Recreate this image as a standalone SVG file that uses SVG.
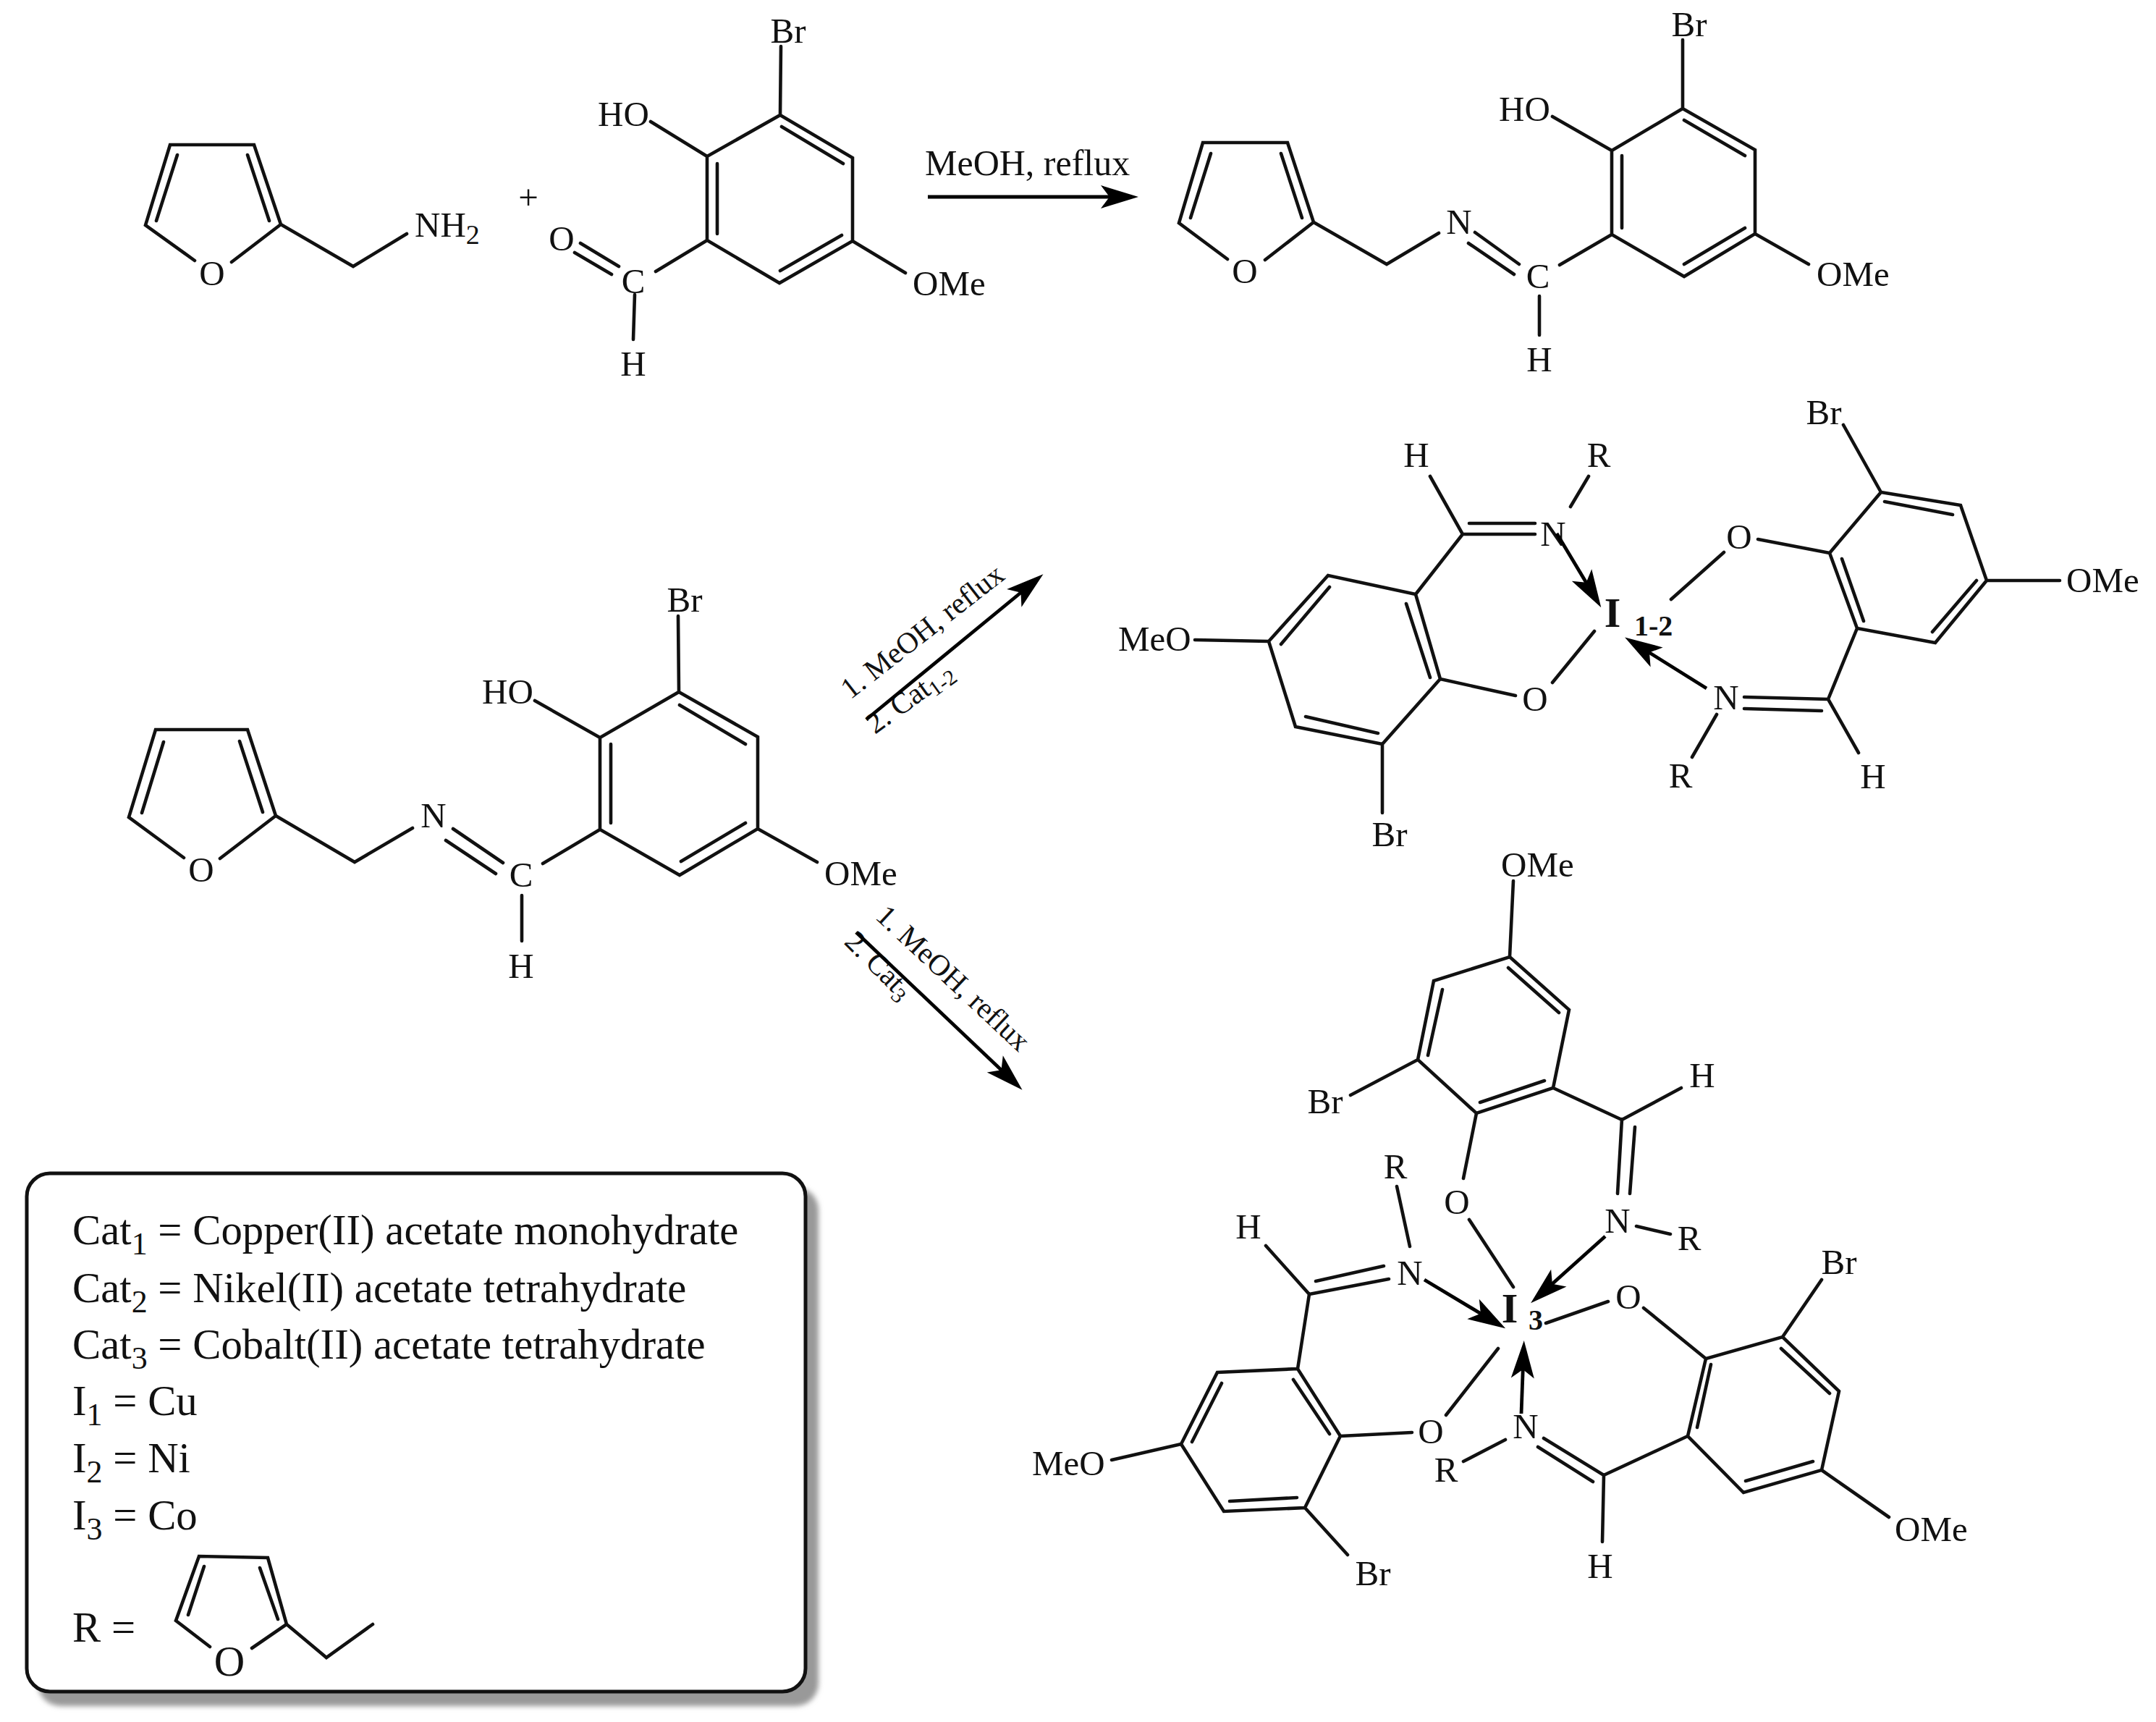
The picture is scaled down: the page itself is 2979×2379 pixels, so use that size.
<svg xmlns="http://www.w3.org/2000/svg" width="2979" height="2379" viewBox="0 0 2979 2379">
<style>
text{font-family:"Liberation Serif","Times New Roman",serif;fill:#111;font-size:49px}
.m{text-anchor:middle}
.b{fill:none;stroke:#111;stroke-width:4.6;stroke-linecap:round;stroke-linejoin:miter}
.a{fill:none;stroke:#000;stroke-width:4.8}
.I{font-weight:bold;font-size:58px}
.Is{font-weight:bold;font-size:40px}
.r{font-size:41px}
.rs{font-size:30px}
.k{font-size:58.8px}
.sub{font-size:38px}
.ks{font-size:44px}
</style>
<defs>
<marker id="head" markerUnits="userSpaceOnUse" viewBox="-54 -18 56 36" markerWidth="56" markerHeight="36" refX="-20" refY="0" orient="auto"><path d="M0,0L-52,-16L-40,0L-52,16Z" fill="#000"/></marker>
<filter id="blur" x="-5%" y="-5%" width="110%" height="110%"><feGaussianBlur stdDeviation="3.5"/></filter>
</defs>
<rect width="2979" height="2379" fill="#fff"/>

<g id="furfurylamine">
<path class="b" d="M269,360L201,311L235,200L351,200L388,310L320,362M245,214L216,305M342,214L372,305M388,310L488,368L562,323"/>
<text class="m" x="293" y="394">O</text>
<text x="573" y="327">NH<tspan class="sub" dy="10">2</tspan></text>
</g>
<text id="plus" class="m" x="730" y="289">+</text>

<g id="aldehyde">
<path class="b" d="M1078,159L1178,218L1178,333L1077,391L977,332L977,216ZM1080,175L1165,226M991,226L991,323M1163,325L1078,374M1079,64L1078,159M899,168L977,216M1178,333L1251,377M977,332L906,375M802,336L855,368M794,349L845,379M877,407L875,469"/>
<text class="m" x="1089" y="59">Br</text>
<text x="826" y="174">HO</text>
<text x="1261" y="408">OMe</text>
<text class="m" x="875" y="405">C</text>
<text class="m" x="776" y="346">O</text>
<text class="m" x="875" y="519">H</text>
</g>

<text id="label-top" x="1278" y="242" style="font-size:50px">MeOH, reflux</text>

<g id="product-top">
<path class="b" d="M1696,358L1629,308L1662,197L1779,197L1815,307L1748,359M1673,212L1645,301M1770,212L1799,301M1815,307L1916,365L1988,322M2038,321L2099,365M2029,336L2092,379M2155,366L2227,324M2127,409L2127,463M2325,150L2425,207L2425,323L2327,382L2227,324L2227,208ZM2327,166L2411,215M2241,215L2241,315M2411,315L2327,365M2325,55L2325,150M2145,161L2227,208M2425,323L2499,365"/>
<text class="m" x="1720" y="391">O</text>
<text class="m" x="2016" y="323">N</text>
<text class="m" x="2125" y="398">C</text>
<text class="m" x="2127" y="513">H</text>
<text class="m" x="2334" y="50">Br</text>
<text x="2071" y="167">HO</text>
<text x="2510" y="395">OMe</text>
</g>

<g id="ligand">
<path class="b" d="M254,1185L178,1129L215,1008L342,1008L381,1127L304,1186M226,1025L196,1123M331,1024L363,1122M381,1127L490,1191L570,1144M626,1145L695,1192M616,1161L685,1207M750,1193L829,1146M721,1237L721,1300M938,956L1047,1018L1047,1145L939,1209L829,1146L829,1019ZM939,974L1030,1028M844,1028L844,1137M1030,1137L941,1190M937,851L938,956M739,968L829,1019M1047,1145L1129,1191"/>
<text class="m" x="278" y="1218">O</text>
<text class="m" x="599" y="1143">N</text>
<text class="m" x="720" y="1225">C</text>
<text class="m" x="720" y="1351">H</text>
<text class="m" x="946" y="845">Br</text>
<text x="666" y="972">HO</text>
<text x="1139" y="1223">OMe</text>
</g>

<g id="label-cat12">
<text class="r" transform="translate(1175,967) rotate(-38)">1. MeOH, reflux</text>
<text class="r" transform="translate(1209,1015) rotate(-36)">2. Cat<tspan class="rs" dy="7">1-2</tspan></text>
</g>
<g id="label-cat3">
<text class="r" transform="translate(1208,1268) rotate(43)">1. MeOH, reflux</text>
<text class="r" transform="translate(1165,1303) rotate(45)">2. Cat<tspan class="rs" dy="7">3</tspan></text>
</g>

<g id="complex-I12">
<path class="b" d="M1956,821L1835,795L1753,886L1790,1004L1910,1028L1990,938ZM1837,811L1770,890M1943,834L1976,936M1804,990L1904,1013M1956,821L2021,738L1976,658M2021,738L2121,738M2030,723L2121,723M2195,658L2170,700M1651,884L1753,886M1910,1028L1910,1123M1990,938L2094,961M2145,943L2203,872M2599,680L2709,698L2745,802L2674,888L2566,868L2528,764ZM2604,693L2698,711M2731,802L2670,873M2545,772L2575,858M2547,587L2599,680M2745,802L2846,802M2429,745L2528,764M2382,763L2309,828M2566,868L2526,966L2568,1040M2410,963L2526,966M2410,979L2517,982M2372,987L2338,1046"/>
<text class="m" x="1957" y="645">H</text>
<text class="m" x="2209" y="645">R</text>
<text class="m" x="2146" y="754">N</text>
<text x="1545" y="899">MeO</text>
<text class="m" x="1920" y="1169">Br</text>
<text class="m" x="2121" y="982">O</text>
<text class="m" x="2520" y="586">Br</text>
<text x="2855" y="818">OMe</text>
<text class="m" x="2403" y="758">O</text>
<text class="m" x="2588" y="1089">H</text>
<text class="m" x="2385" y="980">N</text>
<text class="m" x="2322" y="1088">R</text>
<text class="m I" x="2228" y="866">I</text>
<text class="Is" x="2258" y="878">1-2</text>
</g>

<g id="complex-I3">
<path class="b" d="M2086,1322L2168,1395L2146,1503L2040,1538L1959,1464L1981,1355ZM2084,1337L2154,1399M2134,1493L2045,1523M1993,1367L1973,1458M2091,1217L2086,1322M1959,1464L1866,1513M2146,1503L2241,1547L2323,1503M2241,1546L2235,1649M2259,1557L2252,1649M2040,1538L2022,1628M2030,1685L2091,1778M2261,1694L2308,1705"/>
<path class="b" d="M1809,1788L1919,1767M1818,1770L1912,1749M1749,1721L1809,1788L1793,1891M1930,1639L1948,1722M1793,1891L1682,1896L1632,1995L1691,2088L1803,2083L1852,1984ZM1688,1911L1647,1992M1699,2074L1792,2069M1787,1906L1837,1981M1536,2017L1632,1995M1803,2083L1862,2148M1852,1984L1951,1979M1998,1955L2070,1863M2022,2019L2080,1989M2133,1987L2216,2038M2125,1999L2201,2047M2216,2038L2214,2130M2216,2038L2332,1984M2332,1984L2357,1877L2463,1847L2541,1922L2517,2031L2409,2062ZM2364,1885L2345,1972M2461,1863L2528,1925M2505,2019L2412,2046M2517,2031L2610,2096M2463,1847L2517,1768M2271,1807L2357,1877M2222,1798L2136,1828"/>
<text x="2074" y="1211">OMe</text>
<text class="m" x="1831" y="1538">Br</text>
<text class="m" x="2352" y="1502">H</text>
<text class="m" x="1948" y="1775">N</text>
<text class="m" x="1725" y="1711">H</text>
<text class="m" x="1928" y="1628">R</text>
<text x="1426" y="2038">MeO</text>
<text class="m" x="1897" y="2190">Br</text>
<text class="m" x="1977" y="1994">O</text>
<text class="m" x="2108" y="1987">N</text>
<text class="m" x="1998" y="2047">R</text>
<text class="m" x="2211" y="2180">H</text>
<text x="2618" y="2129">OMe</text>
<text class="m" x="2541" y="1760">Br</text>
<text class="m" x="2250" y="1808">O</text>
<text class="m" x="2013" y="1677">O</text>
<text class="m" x="2235" y="1703">N</text>
<text class="m" x="2334" y="1727">R</text>
<text class="m I" x="2086" y="1827">I</text>
<text class="m Is" x="2122" y="1837">3</text>
</g>

<g id="connectors">
<path class="a" marker-end="url(#head)" d="M1282,272L1553,272"/>
<path class="a" marker-end="url(#head)" d="M1197,994L1426,806"/>
<path class="a" marker-end="url(#head)" d="M1183,1288L1398,1492"/>
<path class="a" marker-end="url(#head)" d="M2151,737L2202,822"/>
<path class="a" marker-end="url(#head)" d="M2358,951L2262,891"/>
<path class="a" marker-end="url(#head)" d="M1968,1768L2063,1825"/>
<path class="a" marker-end="url(#head)" d="M2218,1708L2130,1787"/>
<path class="a" marker-end="url(#head)" d="M2102,1953L2105,1872"/>
</g>

<g id="legend">
<rect x="52" y="1640" width="1079" height="717" rx="32" fill="#999" filter="url(#blur)"/>
<rect x="37" y="1621" width="1076" height="716" rx="32" fill="#fff" stroke="#111" stroke-width="5"/>
<text class="k" x="100" y="1719">Cat<tspan class="ks" dy="14">1</tspan><tspan dy="-14"> = Copper(II) acetate monohydrate</tspan></text>
<text class="k" x="100" y="1799">Cat<tspan class="ks" dy="14">2</tspan><tspan dy="-14"> = Nikel(II) acetate tetrahydrate</tspan></text>
<text class="k" x="100" y="1877">Cat<tspan class="ks" dy="14">3</tspan><tspan dy="-14"> = Cobalt(II) acetate tetrahydrate</tspan></text>
<text class="k" x="100" y="1955">I<tspan class="ks" dy="14">1</tspan><tspan dy="-14"> = Cu</tspan></text>
<text class="k" x="100" y="2034">I<tspan class="ks" dy="14">2</tspan><tspan dy="-14"> = Ni</tspan></text>
<text class="k" x="100" y="2113">I<tspan class="ks" dy="14">3</tspan><tspan dy="-14"> = Co</tspan></text>
<text class="k" x="100" y="2268">R =</text>
<path class="b" d="M290,2275L243,2239L275,2150L370,2152L396,2244L348,2277M282,2164L260,2231M359,2166L384,2237M396,2244L451,2290L515,2244"/>
<text class="k m" x="317" y="2315">O</text>
</g>
</svg>
